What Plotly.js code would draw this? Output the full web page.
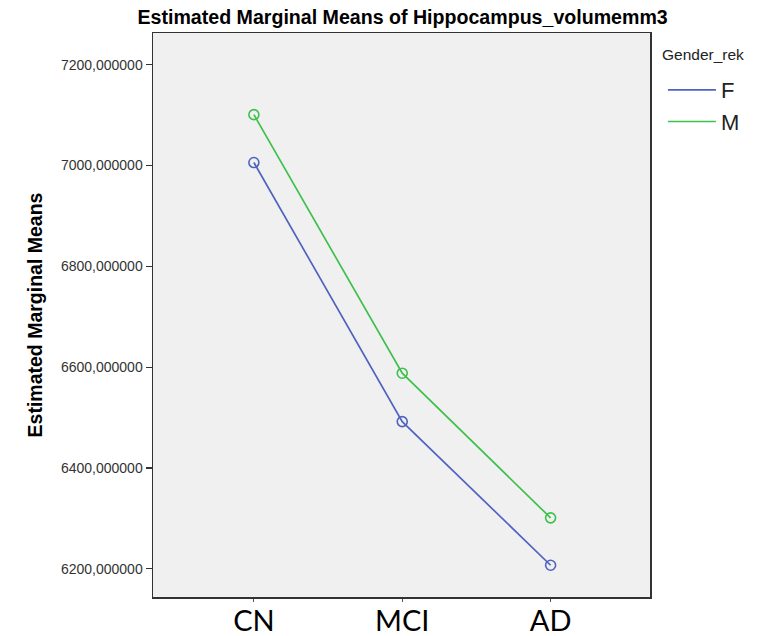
<!DOCTYPE html>
<html>
<head>
<meta charset="utf-8">
<script src="https://cdn.plot.ly/plotly-3.0.1.min.js"></script>
<style>html,body{margin:0;padding:0;background:#fff;}#chart{width:764px;height:636px;}</style>
</head>
<body>
<div id="chart"></div>
<script>
var categories = ["CN", "MCI", "AD"];
var valuesF = [7006, 6492, 6207];
var valuesM = [7101, 6588, 6301];
var seriesNames = ["F", "M"];
var legendTitle = "Gender_rek";
var yTicks = [6200, 6400, 6600, 6800, 7000, 7200];

var colF = "#4f64c0";
var colM = "#3ec04c";

function lineTrace(name, y, col) {
  return {x: categories, y: y, name: name, type: "scatter", mode: "lines",
    line: {color: col, width: 1.7}, showlegend: true, legendgroup: name};
}
function markTrace(name, y, col) {
  return {x: categories, y: y, name: name, type: "scatter", mode: "markers",
    marker: {symbol: "circle-open", size: 10, color: col, line: {width: 1.6, color: col}},
    showlegend: false, hoverinfo: "skip", legendgroup: name};
}

var data = [
  lineTrace(seriesNames[0], valuesF, colF),
  lineTrace(seriesNames[1], valuesM, colM),
  markTrace(seriesNames[0], valuesF, colF),
  markTrace(seriesNames[1], valuesM, colM)
];

var layout = {
  width: 764, height: 636,
  margin: {l: 153, r: 114, t: 33, b: 39, pad: 0},
  paper_bgcolor: "#ffffff",
  plot_bgcolor: "#f0f0f0",
  separators: ",.",
  title: {text: "<b>Estimated Marginal Means of Hippocampus_volumemm3</b>",
    font: {family: "Liberation Sans, Arial, sans-serif", size: 19.6, color: "#000"},
    x: 0.527, xanchor: "center", xref: "container", y: 0.973, yanchor: "middle", yref: "container"},
  xaxis: {type: "category", range: [-0.68, 2.67], showgrid: false, zeroline: false,
    showline: true, linecolor: "#333", linewidth: 1.5, mirror: true,
    ticks: "outside", ticklen: 3, tickcolor: "#555", tickwidth: 1,
    ticklabelstandoff: -5,
    tickfont: {family: "Lato, Open Sans, sans-serif", size: 29, color: "#000"}},
  yaxis: {range: [6144, 7263], showgrid: false, zeroline: false,
    showline: true, linecolor: "#333", linewidth: 1.5, mirror: true,
    ticks: "outside", ticklen: 6, tickcolor: "#333", tickwidth: 1.3,
    tickvals: yTicks, tickformat: ".6f",
    tickfont: {family: "Liberation Sans, Arial, sans-serif", size: 14, color: "#333"},
    title: {text: "<b>Estimated Marginal Means</b>", standoff: 13,
      font: {family: "Liberation Sans, Arial, sans-serif", size: 19.5, color: "#000"}}},
  legend: {x: 1.026, xanchor: "left", y: 0.936, yanchor: "top",
    bgcolor: "rgba(0,0,0,0)", borderwidth: 0,
    font: {family: "Liberation Sans, Arial, sans-serif", size: 22, color: "#222"},
    traceorder: "grouped", tracegroupgap: 0, itemwidth: 48},
  annotations: [{text: legendTitle, xref: "paper", yref: "paper", x: 1.02, y: 0.962,
    xanchor: "left", yanchor: "middle", showarrow: false,
    font: {family: "Liberation Sans, Arial, sans-serif", size: 15.5, color: "#222"}}]
};

Plotly.newPlot("chart", data, layout, {displayModeBar: false, staticPlot: true});
</script>
</body>
</html>
